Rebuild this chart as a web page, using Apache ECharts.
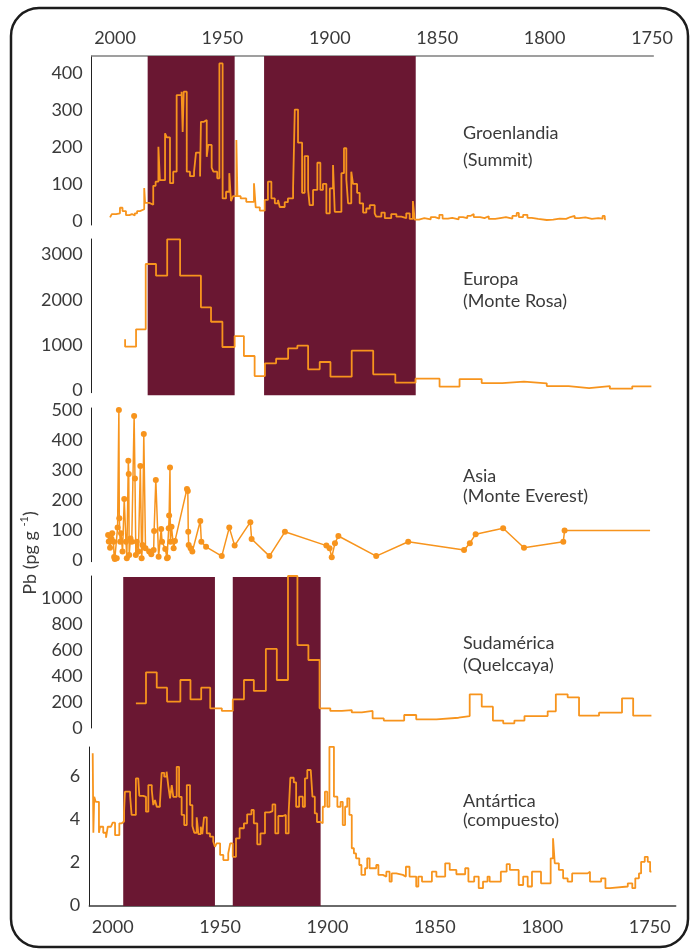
<!DOCTYPE html>
<html>
<head>
<meta charset="utf-8">
<script src="https://cdn.jsdelivr.net/npm/echarts@6/dist/echarts.min.js"></script>
<style>
  html, body { margin: 0; padding: 0; background: #ffffff; }
  #chart { width: 699px; height: 949px; }
</style>
</head>
<body>
<div id="chart"></div>
<script>
// Year tick labels shared by top and bottom axes
const yearTicks = [2000, 1950, 1900, 1850, 1800, 1750];

// Shaded periods (start year, end year)
const topBands = [[1984.8, 1944.3], [1930.6, 1860.0]];
const bottomBands = [[1995.1, 1952.4], [1944.1, 1903.2]];

// Groenlandia (Summit): [year where value starts, Pb]
const groenlandia = [
  [2002.3, 11], [2001.5, 20], [1999.5, 22], [1997.7, 37], [1996.5, 28], [1994.9, 17], [1993.3, 20],
  [1992.1, 16], [1990.8, 22], [1989.7, 28], [1988.4, 33], [1986.4, 90], [1986.0, 50], [1984.0, 45],
  [1982.2, 96], [1981.1, 107], [1979.8, 201], [1979.1, 111], [1976.7, 237], [1975.9, 226],
  [1974.4, 103], [1972.9, 134], [1971.3, 340], [1969.0, 349], [1968.5, 241], [1968.0, 349],
  [1966.6, 134], [1965.1, 122], [1963.2, 134], [1962.3, 185], [1960.4, 121], [1960.0, 268],
  [1958.6, 273], [1957.3, 174], [1956.6, 206], [1955.0, 145], [1954.2, 134], [1952.4, 116],
  [1951.4, 425], [1949.9, 62], [1948.3, 80], [1946.8, 130], [1946.0, 55], [1945.1, 68],
  [1943.5, 219], [1943.0, 68], [1941.5, 62], [1938.9, 53], [1935.3, 103], [1934.5, 38],
  [1932.6, 29], [1930.3, 58], [1928.8, 107], [1927.2, 62], [1925.6, 49], [1924.1, 58],
  [1923.3, 39], [1921.0, 52], [1919.5, 62], [1917.1, 89], [1916.3, 301], [1914.8, 212],
  [1912.9, 77], [1911.7, 176], [1910.1, 85], [1909.4, 44], [1907.8, 85], [1905.8, 158],
  [1904.4, 85], [1903.2, 101], [1901.6, 22], [1900.0, 89], [1898.5, 152], [1897.7, 26],
  [1894.6, 130], [1893.4, 197], [1892.3, 113], [1891.5, 49], [1890.0, 134], [1889.2, 101],
  [1887.3, 77], [1886.1, 49], [1884.5, 24], [1883.0, 35], [1881.4, 44], [1879.1, 22],
  [1878.4, 13], [1876.0, 24], [1874.4, 9], [1871.4, 20], [1869.0, 13], [1866.7, 9],
  [1864.4, 22], [1862.8, 7], [1861.3, 55], [1860.5, 5], [1858.5, 9], [1856, 6], [1853, 12],
  [1851, 8], [1849, 18], [1847.5, 8], [1845, 10], [1843, 6], [1840, 12], [1838, 9], [1836, 15],
  [1834.5, 20], [1833, 12], [1830, 9], [1828, 14], [1826, 7], [1823, 10], [1820, 12], [1818, 8],
  [1815, 15], [1813, 23], [1812, 12], [1810, 18], [1808, 10], [1806, 7], [1803, 4], [1799, 5],
  [1796, 8], [1793, 7], [1790, 12], [1788, 15], [1786, 9], [1784, 11], [1781, 7], [1778, 9],
  [1775, 8], [1773, 15], [1772, 6], [1771.5, 6]
];

// Europa (Monte Rosa)
const europa = [
  [1995.3, 1128], [1995.3, 965], [1990.2, 1348], [1985.7, 2786], [1980.9, 2529], [1975.7, 3330],
  [1969.7, 2529], [1960.0, 1833], [1955.3, 1515], [1950.0, 958], [1944.3, 1200], [1940.0, 760],
  [1935.0, 319], [1930.2, 599], [1925.0, 700], [1919.4, 929], [1915.1, 987], [1910.1, 467],
  [1904.7, 628], [1899.7, 304], [1889.8, 877], [1879.8, 357], [1869.5, 172], [1860.1, 260],
  [1848.9, 84], [1839.6, 253], [1829.3, 165], [1819.7, 194], [1809.6, 159], [1799.0, 99],
  [1788.8, 55], [1779.3, 99], [1769.6, 40], [1759.2, 92], [1750.3, 92]
];

// Asia (Monte Everest): individual samples
const asia = [
  [2003.2, 83], [2002.9, 62], [2002.3, 41], [2001.6, 70], [2001.3, 89], [2000.7, 61], [2000.4, 10],
  [2000.1, 3], [1999.2, 6], [1998.8, 108], [1998.2, 500], [1998.0, 139], [1997.6, 61], [1997.2, 89],
  [1996.5, 28], [1995.7, 203], [1994.9, 61], [1994.5, 6], [1993.8, 331], [1993.6, 287], [1993.4, 17],
  [1992.8, 72], [1992.2, 61], [1991.1, 480], [1990.7, 272], [1990.3, 17], [1989.9, 61], [1989.1, 28],
  [1988.2, 313], [1987.6, 6], [1987.2, 50], [1986.6, 420], [1985.8, 39], [1984.1, 28], [1983.1, 19],
  [1982.0, 33], [1981.8, 97], [1981.0, 267], [1979.7, 11], [1978.5, 103], [1978.1, 61], [1976.6, 37],
  [1975.8, 6], [1975.4, 8], [1975.0, 106], [1974.8, 148], [1974.4, 308], [1974.2, 61], [1973.7, 111],
  [1972.7, 39], [1972.1, 63], [1966.5, 237], [1966.1, 230], [1965.9, 94], [1965.7, 50], [1964.8, 39],
  [1964.0, 28], [1960.3, 130], [1959.8, 61], [1957.6, 44], [1950.3, 13], [1946.8, 108], [1944.3, 48],
  [1937.0, 126], [1936.4, 70], [1928.1, 13], [1920.9, 94], [1901.6, 48], [1900.1, 39], [1899.1, 9],
  [1897.6, 56], [1896.0, 80], [1878.4, 13], [1863.5, 61], [1837.5, 33], [1834.8, 56], [1832.1, 86],
  [1819.3, 106], [1809.6, 41], [1791.3, 61], [1790.7, 98]
];
const asiaTail = [1750.9, 98];

// Sudamérica (Quelccaya)
const sudamerica = [
  [1989.2, 190], [1984.5, 428], [1979.5, 310], [1974.7, 203], [1968.5, 369], [1963.8, 220],
  [1958.8, 310], [1954.6, 151], [1949.2, 131], [1944.1, 220], [1938.9, 369], [1934.3, 285],
  [1928.7, 608], [1923.6, 369], [1918.4, 1169], [1914.0, 638], [1908.9, 523], [1903.7, 151],
  [1898.7, 131], [1893.3, 138], [1888.7, 120], [1884.0, 131], [1879.0, 74], [1873.8, 57],
  [1864.3, 100], [1858.7, 67], [1849.3, 79], [1839.0, 92], [1833.8, 259], [1828.2, 164],
  [1823.0, 57], [1818.2, 36], [1813.0, 57], [1808.3, 92], [1797.5, 128], [1793.7, 259],
  [1788.2, 236], [1782.9, 95], [1773.6, 118], [1762.9, 228], [1757.7, 95], [1749.2, 95]
];

// Antártica (compuesto)
const antartica = [
  [2009.3, 7.06], [2009.0, 3.36], [2008.6, 5.03], [2007.9, 4.8], [2006.4, 3.36], [2005.9, 3.64],
  [2004.4, 3.36], [2003.1, 3.13], [2002.3, 3.64], [2000.8, 3.56], [2000.0, 3.83], [1998.9, 3.25],
  [1996.9, 3.8], [1995.8, 3.88], [1994.7, 4.34], [1994.3, 5.27], [1991.9, 5.08], [1991.2, 4.19],
  [1989.2, 5.89], [1988.1, 5.97], [1987.6, 5.08], [1985.8, 5.03], [1984.5, 4.34], [1983.4, 5.58],
  [1981.8, 5.35], [1981.1, 4.65], [1980.3, 4.88], [1979.5, 4.57], [1978.0, 4.73], [1977.2, 6.15],
  [1976.0, 5.97], [1974.9, 6.2], [1974.1, 5.53], [1973.3, 4.96], [1972.5, 5.58], [1971.8, 5.03],
  [1970.2, 6.43], [1969.1, 5.03], [1967.9, 4.19], [1966.7, 3.72], [1965.5, 5.58], [1964.0, 4.65],
  [1962.9, 3.67], [1962.0, 3.36], [1960.9, 4.08], [1960.1, 3.3], [1959.0, 3.64], [1958.3, 3.3],
  [1957.5, 4.08], [1956.2, 3.33], [1954.7, 3.18], [1953.2, 2.95], [1952.4, 2.71], [1951.6, 2.87],
  [1950.0, 2.33], [1948.5, 2.09], [1946.2, 2.4], [1945.3, 2.87], [1944.1, 2.24], [1942.6, 3.1],
  [1940.9, 3.57], [1938.9, 3.8], [1937.4, 4.22], [1935.4, 4.42], [1934.3, 3.8], [1932.7, 2.82],
  [1931.2, 3.33], [1929.1, 4.31], [1927.0, 4.37], [1925.6, 4.68], [1924.3, 3.33], [1922.9, 4.14],
  [1920.8, 4.19], [1919.4, 3.33], [1918.1, 4.26], [1917.3, 5.92], [1915.7, 5.7], [1914.6, 4.57],
  [1913.2, 5.04], [1911.5, 4.57], [1910.5, 5.89], [1909.4, 6.28], [1907.8, 6.36], [1907.0, 5.04],
  [1905.9, 4.26], [1904.9, 3.86], [1903.2, 3.8], [1902.2, 4.57], [1901.2, 5.27], [1900.1, 4.57],
  [1899.1, 7.36], [1897.0, 5.04], [1895.4, 4.57], [1893.9, 4.8], [1892.9, 3.72], [1891.8, 4.57],
  [1890.8, 4.96], [1889.8, 4.19], [1888.7, 2.64], [1887.7, 2.4], [1886.7, 2.17], [1885.2, 1.86],
  [1884.2, 1.4], [1882.5, 1.71], [1881.5, 2.17], [1880.4, 1.71], [1877.3, 1.86], [1876.3, 1.4],
  [1874.2, 1.32], [1872.6, 1.55], [1871.1, 1.09], [1870.1, 1.47], [1868.0, 1.4], [1864.9, 1.32],
  [1863.5, 1.78], [1861.8, 1.32], [1858.7, 0.86], [1857.7, 1.32], [1856.0, 1.09], [1851.4, 1.55],
  [1849.3, 1.32], [1845.2, 1.94], [1843.1, 1.63], [1840.0, 1.43], [1835.9, 1.71], [1834.4, 1.09],
  [1831.7, 1.32], [1829.6, 0.78], [1827.6, 1.09], [1825.5, 1.32], [1824.5, 1.09], [1819.3, 1.55],
  [1816.6, 1.9], [1815.1, 1.63], [1811.0, 0.93], [1808.9, 1.32], [1806.8, 0.86], [1804.8, 1.55],
  [1800.6, 1.01], [1796.1, 2.17], [1795.0, 3.1], [1794.2, 1.94], [1792.3, 1.63], [1790.3, 1.24],
  [1788.2, 1.09], [1786.1, 1.47], [1778.9, 1.55], [1777.8, 1.09], [1772.6, 1.24], [1770.6, 0.78],
  [1768.5, 0.86], [1760.2, 1.01], [1758.1, 0.78], [1756.7, 1.24], [1755.0, 1.47], [1754.0, 2.01],
  [1752.3, 2.24], [1750.9, 2.01], [1749.8, 1.55], [1749.2, 1.55]
];

// Value labels on each panel's vertical axis
const ticksGroenlandia = [0, 100, 200, 300, 400];
const ticksEuropa = [0, 1000, 2000, 3000];
const ticksAsia = [0, 100, 200, 300, 400, 500];
const ticksSudamerica = [0, 200, 400, 600, 800, 1000];
const ticksAntartica = [0, 2, 4, 6];

const panelNames = [
  ['Groenlandia', '(Summit)'],
  ['Europa', '(Monte Rosa)'],
  ['Asia', '(Monte Everest)'],
  ['Sudamérica', '(Quelccaya)'],
  ['Antártica', '(compuesto)']
];

// ---- layout & styling ----
const ORANGE = '#F7941D';
const BAND = '#6A1732';
const TEXT = '#3a3a3a';
const FONT = 'Lato, "Open Sans", sans-serif';
const PX_PER_YEAR = 2.148;
const plain = v => String(v);

// Horizontal placement of each grid: left edge and the year range it shows
function xSpan(left, yearMax, yearMin) {
  return { left: left, width: (yearMax - yearMin) * PX_PER_YEAR, max: yearMax, min: yearMin };
}
const topX = xSpan(91.7, 2010.85, 1749.4);
const topXWide = xSpan(91.7, 2010.85, 1740);
const botXA = xSpan(91.7, 2009.78, 1740);
const botX = xSpan(89.3, 2010.89, 1737.9);

const panels = [
  { x: topX, top: 56, height: 169, ymin: -9.4, ymax: 445, ticks: ticksGroenlandia },
  { x: topXWide, top: 239, height: 153.7, ymin: -48, ymax: 3337, ticks: ticksEuropa },
  { x: topXWide, top: 408, height: 153.7, ymin: -5.7, ymax: 506.7, ticks: ticksAsia },
  { x: botXA, top: 576, height: 152, ymin: 0, ymax: 1169, ticks: ticksSudamerica },
  { x: botX, top: 747, height: 159, ymin: -0.047, ymax: 7.35, ticks: ticksAntartica }
];
const bandGrids = [
  { x: topX, top: 56, height: 339.3 },
  { x: botX, top: 577, height: 329 }
];

const grids = [], xAxes = [], yAxes = [];
panels.forEach((p, i) => {
  grids.push({ left: p.x.left, width: p.x.width, top: p.top, height: p.height });
  const isTop = i === 0, isBottom = i === panels.length - 1;
  xAxes.push({
    gridIndex: i, type: 'value', inverse: true, min: p.x.min, max: p.x.max,
    position: isTop ? 'top' : 'bottom',
    show: isTop || isBottom,
    axisLine: { show: true, onZero: false, lineStyle: { color: isTop ? '#808080' : '#3a3a3a', width: 1.5 } },
    axisTick: { show: false },
    splitLine: { show: false },
    axisLabel: {
      customValues: yearTicks, formatter: plain, color: TEXT, fontFamily: FONT, fontSize: 18,
      margin: isTop ? 9 : 12
    }
  });
  yAxes.push({
    gridIndex: i, type: 'value', min: p.ymin, max: p.ymax,
    axisLine: { show: true, lineStyle: { color: '#222', width: 1 } },
    axisTick: { show: false },
    splitLine: { show: false },
    axisLabel: { customValues: p.ticks, formatter: plain, color: TEXT, fontFamily: FONT, fontSize: 18, margin: 9 }
  });
});
bandGrids.forEach((b, k) => {
  grids.push({ left: b.x.left, width: b.x.width, top: b.top, height: b.height });
  xAxes.push({ gridIndex: panels.length + k, type: 'value', inverse: true, min: b.x.min, max: b.x.max, show: false });
  yAxes.push({ gridIndex: panels.length + k, type: 'value', min: 0, max: 1, show: false });
});

function bandSeries(data, axisIdx) {
  return {
    type: 'custom', xAxisIndex: axisIdx, yAxisIndex: axisIdx, z: 1, silent: true,
    data: data,
    encode: { x: [0, 1] },
    renderItem: (params, api) => {
      const a = api.coord([api.value(0), 1]);
      const b = api.coord([api.value(1), 0]);
      return {
        type: 'rect',
        shape: { x: Math.min(a[0], b[0]), y: a[1], width: Math.abs(b[0] - a[0]), height: b[1] - a[1] },
        style: { fill: BAND }
      };
    }
  };
}

function stepSeries(data, idx) {
  return {
    type: 'line', xAxisIndex: idx, yAxisIndex: idx, z: 3, step: 'end',
    data: data, symbol: 'none', animation: false,
    lineStyle: { color: ORANGE, width: 1.8 }
  };
}

const asiaData = asia.map(d => d).concat([{ value: asiaTail, symbol: 'none' }]);

const series = [
  bandSeries(topBands, 5),
  bandSeries(bottomBands, 6),
  stepSeries(groenlandia, 0),
  stepSeries(europa, 1),
  {
    type: 'line', xAxisIndex: 2, yAxisIndex: 2, z: 3, data: asiaData,
    symbol: 'circle', symbolSize: 6, showAllSymbol: true, animation: false,
    lineStyle: { color: ORANGE, width: 1.5 }, itemStyle: { color: ORANGE }
  },
  stepSeries(sudamerica, 3),
  stepSeries(antartica, 4)
];

// Panel captions
const captionPos = [[135, 162], [281, 303], [478, 498], [645, 667], [803, 822]];
const graphics = [];
panelNames.forEach((n, i) => {
  n.forEach((line, j) => {
    graphics.push({
      type: 'text', left: 463, top: captionPos[i][j] - 11, z: 10,
      style: { text: line, fill: TEXT, font: '18px ' + FONT }
    });
  });
});
// Vertical axis title
graphics.push({
  type: 'text', x: 30, y: 553, rotation: Math.PI / 2, z: 10,
  style: {
    text: '{a|Pb (pg g }{s|-1}{a|)}', align: 'center', verticalAlign: 'middle',
    rich: {
      a: { fontSize: 18, fontFamily: FONT, fill: TEXT, lineHeight: 22, verticalAlign: 'middle' },
      s: { fontSize: 11, fontFamily: FONT, fill: TEXT, lineHeight: 22, verticalAlign: 'top' }
    }
  }
});
// Rounded frame
graphics.push({
  type: 'rect', z: 20, silent: true,
  shape: { x: 11, y: 8, width: 677, height: 939, r: 28 },
  style: { fill: 'none', stroke: '#1c1c1c', lineWidth: 2.5 }
});

const chart = echarts.init(document.getElementById('chart'));
chart.setOption({
  animation: false,
  backgroundColor: '#ffffff',
  grid: grids,
  xAxis: xAxes,
  yAxis: yAxes,
  series: series,
  graphic: graphics
});
</script>
</body>
</html>
